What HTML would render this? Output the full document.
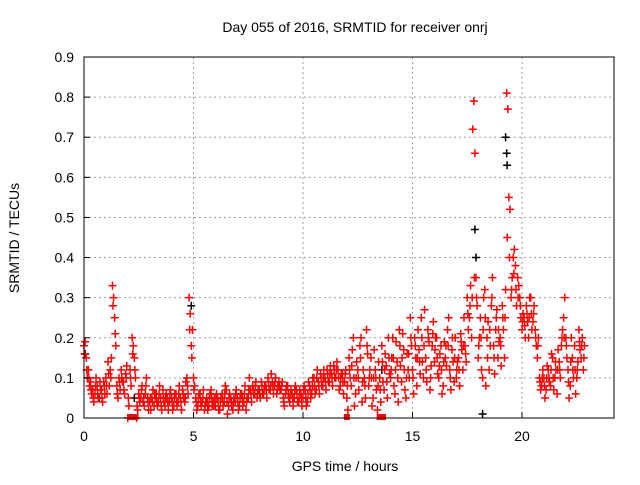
<!DOCTYPE html>
<html><head><meta charset="utf-8"><style>
body{margin:0;background:#fff;}
svg text{font-family:"Liberation Sans",sans-serif;font-size:14px;fill:#000;}
</style></head><body>
<svg id="chart" width="640" height="480" viewBox="0 0 640 480">
<rect width="640" height="480" fill="#fff"/>
<text x="355" y="32" text-anchor="middle">Day 055 of 2016, SRMTID for receiver onrj</text>
<text x="345" y="471" text-anchor="middle">GPS time / hours</text>
<text x="0" y="0" transform="translate(19,238) rotate(-90)" text-anchor="middle">SRMTID / TECUs</text>
<g id="grid"></g><g id="marks"></g><g id="axes"></g>
</svg>
<script>
const yTicks=[0,0.1,0.2,0.3,0.4,0.5,0.6,0.7,0.8,0.9];
const yTickLabels=["0","0.1","0.2","0.3","0.4","0.5","0.6","0.7","0.8","0.9"];
const xTicks=[0,5,10,15,20];
const xTickLabels=["0","5","10","15","20"];
const redA=[.18,.15,.12,.09,.07,.06,.08,.05,.07,.09,
.1,.14,.12,.33,.25,.08,.1,.12,.09,.11,
0,.12,.2,.15,0,.06,.05,.04,.06,.05,
.04,.05,.03,.06,.04,.05,.07,.03,.05,.04,
.05,.03,.06,.04,.05,.07,.04,.1,.3,.18,
.1,.05,.03,.06,.04,.02,.05,.03,.07,.04,
.03,.05,.02,.06,.04,.07,.03,.05,.02,.04,
.05,.03,.06,.04,.02,.05,.07,.08,.06,.05,
.07,.09,.06,.08,.1,.07,.09,.08,.06,.09,
.07,.05,.06,.08,.04,.06,.05,.07,.04,.06,
.05,.07,.04,.08,.06,.1,.07,.09,.11,.08,
.1,.12,.09,.11,.13,.1,.12,.08,.11,.09,
.05,.15,.08,.2,.06,.12,.18,.04,.1,.22,
.08,.15,.05,.12,.02,.1,.18,.07,.13,.2,
.1,.2,.06,.14,.22,.09,.17,.05,.12,.25,
.12,.2,.08,.17,.25,.1,.15,.22,.07,.18,
.14,.2,.1,.18,.08,.15,.22,.12,.17,.09,
.1,.15,.21,.12,.18,.3,.25,.2,.79,.35,
.15,.25,.1,.32,.2,.12,.28,.18,.22,.15,
.2,.28,.15,.81,.55,.3,.4,.38,.35,.3,
.22,.25,.28,.2,.3,.24,.22,.15,.1,.08,
.1,.07,.12,.08,.15,.1,.06,.14,.18,.25,
.2,.12,.08,.15,.18,.1,.22,.15,.12];
const redB=[.19,.1,.08,.06,.04,.1,.05,.07,.04,.06,
.06,.08,.15,.3,.18,.05,.07,.09,.06,.13,
.03,.08,.18,.1,.02,.04,.08,.03,.1,.02,
.02,.07,.05,.03,.08,.02,.04,.06,.02,.07,
.02,.06,.03,.08,.02,.05,.09,.06,.26,.22,
.08,.02,.06,.03,.07,.04,.02,.06,.03,.05,
.06,.02,.05,.03,.08,.01,.06,.03,.05,.07,
.02,.06,.03,.08,.05,.1,.04,.06,.09,.07,
.05,.06,.08,.05,.07,.11,.06,.1,.08,.07,
.09,.03,.08,.05,.07,.03,.08,.04,.07,.03,
.08,.03,.09,.05,.1,.06,.12,.06,.08,.12,
.07,.09,.13,.08,.1,.14,.07,.11,.06,.12,
.02,.1,.17,.03,.14,.07,.2,.12,.05,.16,
.12,.03,.17,.07,.14,.04,.09,.16,.05,.11,
.15,.08,.19,.04,.13,.21,.07,.16,.1,.18,
.06,.15,.22,.11,.14,.27,.09,.19,.13,.24,
.2,.11,.16,.06,.19,.13,.25,.07,.14,.2,
.14,.08,.17,.25,.14,.22,.33,.72,.66,.28,
.2,.12,.3,.08,.24,.18,.35,.11,.27,.19,
.13,.22,.32,.77,.52,.35,.42,.28,.33,.25,
.26,.2,.24,.3,.22,.28,.18,.2,.07,.12,
.05,.13,.09,.16,.07,.12,.17,.1,.22,.3,
.15,.05,.2,.1,.06,.14,.17,.2,.18];
const redC=[.16,.12,.1,.07,.05,.08,.06,.09,.05,.08,
.08,.11,.1,.28,.21,.06,.09,.1,.07,.1,
.05,.1,.16,.12,.03,.05,.07,.05,.08,.04,
.05,.04,.06,.04,.06,.03,.05,.05,.04,.06,
.04,.05,.04,.06,.04,.06,.05,.08,.22,.15,
.07,.04,.05,.04,.05,.03,.04,.05,.05,.03,
.05,.04,.04,.05,.06,.04,.05,.04,.04,.06,
.04,.05,.05,.06,.04,.07,.06,.07,.08,.06,
.06,.08,.07,.07,.09,.08,.08,.09,.07,.08,
.08,.04,.07,.06,.06,.05,.07,.06,.05,.05,
.07,.05,.06,.07,.08,.08,.1,.08,.1,.1,
.09,.11,.11,.1,.12,.12,.1,.1,.09,.11,
.08,.12,.13,.1,.1,.1,.15,.09,.08,.18,
.1,.1,.1,.1,.08,.07,.14,.12,.09,.15,
.12,.15,.12,.1,.18,.15,.12,.1,.16,.2,
.1,.18,.15,.14,.2,.18,.12,.2,.1,.21,
.17,.15,.13,.12,.14,.18,.18,.1,.2,.15,
.12,.12,.19,.18,.16,.26,.28,.3,.35,.3,
.18,.2,.22,.25,.15,.22,.3,.15,.25,.22,
.18,.25,.25,.45,.4,.32,.36,.32,.3,.28,
.24,.23,.26,.25,.26,.26,.2,.18,.09,.1,
.08,.1,.1,.12,.1,.14,.12,.12,.2,.2,
.18,.09,.14,.12,.12,.12,.19,.18,.15];
const redTimes=redA.map((v,i)=>i*0.1);
const blackTimes=[17.85,17.9,19.25,19.3,19.32,18.2,13.6,2.3,0.05,4.9];
const blackValues=[0.47,0.4,0.7,0.66,0.63,0.01,0.12,0.05,0.16,0.28];
const zeroTimes=[2.1,2.35,12,13.5,13.65];
const X0=84,X1=614,Y0=418,Y1=57,XMAX=24.2,YMAX=0.9;
const xs=t=>X0+t/XMAX*(X1-X0);
const ys=v=>Y0-v/YMAX*(Y0-Y1);
const NS="http://www.w3.org/2000/svg";
const grid=document.getElementById('grid'),marks=document.getElementById('marks'),axes=document.getElementById('axes');
function mk(tag,attrs,parent){const e=document.createElementNS(NS,tag);for(const k in attrs)e.setAttribute(k,attrs[k]);parent.appendChild(e);return e;}
yTicks.forEach((v,i)=>{
 const y=ys(v);
 if(i>0&&i<yTicks.length-1){const g=mk('line',{x1:X0,x2:X1,y1:y,y2:y,stroke:'#a0a0a0','stroke-dasharray':'2,3','stroke-width':1},grid);
 
 }
 const t=mk('line',{x1:X0,x2:X0+6,y1:y,y2:y,stroke:'#000'},axes);
 
 
 const l=mk('text',{x:X0-10,y:y+5,'text-anchor':'end'},axes);l.textContent=yTickLabels[i];
 
 
});
xTicks.forEach((v,i)=>{
 const x=xs(v);
 if(i>0){const g=mk('line',{x1:x,x2:x,y1:Y1,y2:Y0,stroke:'#a0a0a0','stroke-dasharray':'2,3','stroke-width':1},grid);
 
 }
 const t=mk('line',{x1:x,x2:x,y1:Y0,y2:Y0-6,stroke:'#000'},axes);
 
 
 const l=mk('text',{x:x,y:Y0+23,'text-anchor':'middle'},axes);l.textContent=xTickLabels[i];
 
 
});
const frame=mk('rect',{x:X0,y:Y1,width:X1-X0,height:Y0-Y1,fill:'none',stroke:'#000'},axes);


function plus(t,v,color){
 const x=xs(t),y=ys(v);
 const p=mk('path',{d:`M${x-4},${y}H${x+4}M${x},${y-4}V${y+4}`,stroke:color,'stroke-width':1.5,fill:'none'},marks);
 
 
}
blackTimes.forEach((t,i)=>plus(t,blackValues[i],'#000'));
redTimes.forEach((t,i)=>plus(t,redA[i],'#ff0000'));
redTimes.forEach((t,i)=>plus(t+0.05,redB[i],'#ff0000'));
redTimes.forEach((t,i)=>plus(t+0.025,redC[i],'#ff0000'));
zeroTimes.forEach(t=>{
 const s=mk('rect',{x:xs(t)-3,y:Y0-4,width:6,height:6,fill:'#ff0000'},marks);
 
 
});
</script>
</body></html>
